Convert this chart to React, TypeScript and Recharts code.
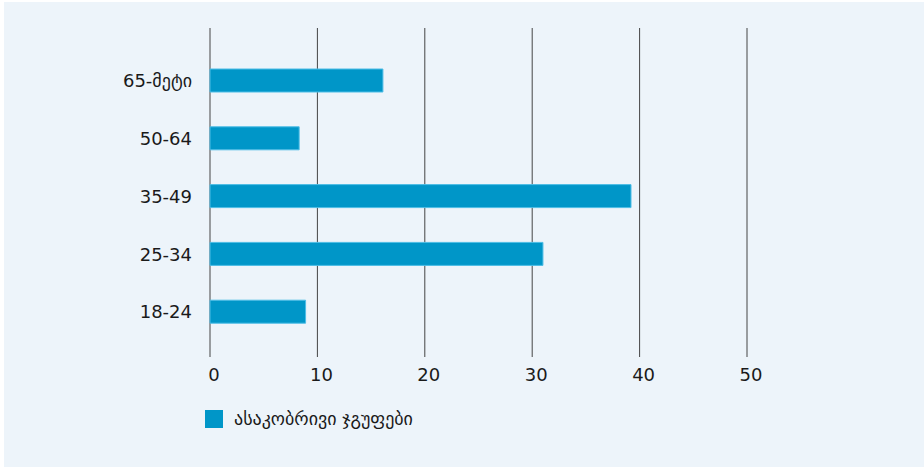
import { Bar, BarChart, CartesianGrid, XAxis, YAxis } from "recharts";

const categories = ["65-მეტი", "50-64", "35-49", "25-34", "18-24"];
const values = [16.1, 8.3, 39.2, 31, 8.9];
const xTicks = [0, 10, 20, 30, 40, 50];
const seriesName = "ასაკობრივი ჯგუფები";

const data = categories.map((name, i) => ({ name, value: values[i] }));

const FONT = "'DejaVu Sans', sans-serif";
const BAR = "#0096c8";
const TEXT = "#1a1a1a";

export default function App() {
	return (
		<div style={{ position: "absolute", top: 0, left: 0, width: 924, height: 467, background: "#fff" }}>
			<div style={{ position: "absolute", left: 4, top: 2, width: 920, height: 465, background: "#edf4fa" }}>
				<BarChart
					width={920}
					height={465}
					layout="vertical"
					data={data}
					margin={{ top: 26, right: 177, bottom: 80, left: 20 }}
				>
					<CartesianGrid horizontal={false} stroke="#444" />
					<XAxis
						type="number"
						domain={[0, 50]}
						ticks={xTicks}
						axisLine={false}
						tickLine={false}
						tickMargin={5}
						height={30}
						tick={{ fill: TEXT, fontSize: 18, fontFamily: FONT, dx: 4 }}
					/>
					<YAxis
						type="category"
						dataKey="name"
						width={186}
						axisLine={false}
						tickLine={false}
						tickMargin={12}
						padding={{ top: 24, bottom: 16 }}
						tick={{ fill: TEXT, fontSize: 18, fontFamily: FONT }}
					/>
					<Bar
						dataKey="value"
						name={seriesName}
						fill={BAR}
						stroke="#4dbde6"
						strokeWidth={1}
						barSize={23}
						isAnimationActive={false}
					/>
				</BarChart>
				<div
					style={{
						position: "absolute",
						left: 201,
						top: 406,
						display: "flex",
						alignItems: "center",
						fontFamily: FONT,
						fontSize: 18,
						color: TEXT,
					}}
				>
					<span style={{ width: 18, height: 18, background: BAR, display: "inline-block", marginRight: 11 }} />
					<span>{seriesName}</span>
				</div>
			</div>
		</div>
	);
}
